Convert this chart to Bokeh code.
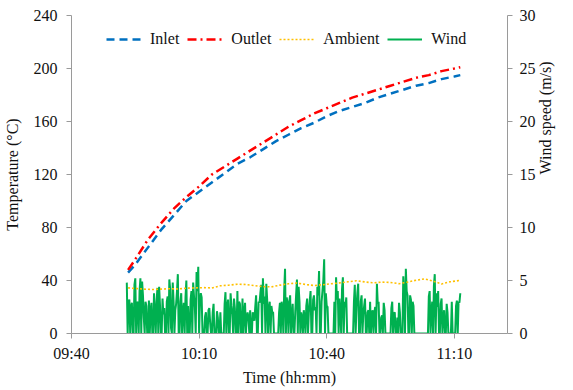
import math
from bokeh.plotting import figure
from bokeh.models import Range1d, LinearAxis, FixedTicker, Legend, LegendItem
from bokeh.embed import file_html
from bokeh.resources import INLINE

# ---- data (minutes after 09:40) ----
inlet_t = [13.3, 15, 18, 21, 24, 27, 30, 33, 36, 39, 42, 45, 48, 51, 54, 57, 60,
           63, 66, 69, 72, 75, 78, 81, 84, 87, 90, 91.4]
inlet_v = [46, 52, 65, 78, 89, 100, 107, 114, 121, 128, 133, 139, 145, 150, 155, 159, 164,
           168, 171, 174, 178, 181, 184, 187, 189, 192, 194, 195]

outlet_t = inlet_t
outlet_v = [48, 56, 71, 83, 94, 103, 111, 120, 126, 132, 138, 144, 150, 156, 161, 166, 170,
            174, 178, 181, 184, 187, 190, 193, 195, 198, 200, 201]

ambient_t = [13.3, 15, 17, 19, 21, 23, 25, 27, 29, 31, 33, 35, 37, 39, 41, 43, 45, 47, 49, 51,
             53, 55, 57, 59, 61, 63, 65, 67, 69, 71, 73, 75, 77, 79, 81, 83, 85, 87, 89, 91.4]
ambient_v = [34.4, 34.0, 33.5, 33.2, 33.5, 33.8, 33.6, 34.2, 34.4, 34.6, 34.4, 36.0, 36.5, 37.2,
             37.0, 36.2, 35.4, 35.2, 36.5, 37.5, 38.1, 37.0, 36.2, 36.8, 37.5, 38.2, 39.0, 39.8,
             38.9, 38.2, 38.8, 38.5, 37.6, 38.8, 40.2, 41.2, 39.5, 37.4, 39.0, 40.1]

wind_start = 13.0   # minutes after 09:40
wind_step = 0.2     # minutes between samples
wind_v = [
    4.8, 0, 2.9, 3.2, 0, 2.5, 2.9, 0, 0, 4.6, 5.2, 0, 2.8, 3.0, 0, 4.0, 5.2, 0, 4.9, 3.6,
    1.5, 0, 3.0, 2.6, 0, 0, 3.1, 0, 2.2, 2.9, 0, 0, 3.8, 2.0, 0, 3.0, 4.3, 0, 4.4, 2.7,
    0, 0, 3.3, 1.8, 2.4, 0, 0, 3.0, 3.5, 0, 5.1, 4.2, 0.5, 0, 4.8, 3.0, 0, 2.2, 2.8, 4.0,
    5.6, 0, 0, 3.0, 3.8, 0, 2.0, 2.9, 0, 3.4, 5.0, 0, 2.6, 0, 0, 3.2, 4.0, 0, 4.8, 3.5,
    2.5, 0, 5.8, 4.0, 6.3, 0, 3.0, 3.8, 3.4, 0, 0, 0, 1.6, 2.0, 0, 0, 2.2, 2.4, 1.0, 0,
    0, 2.0, 2.8, 0, 0, 0, 2.1, 1.5, 0, 0, 2.0, 0, 0, 0, 0, 2.8, 3.9, 0, 2.5, 3.2,
    0, 0, 3.8, 2.6, 1.8, 0, 3.3, 2.4, 0, 0, 4.0, 0, 3.0, 2.8, 0, 0, 3.3, 0, 2.0, 2.9, 0, 1.5,
    2.0, 1.5, 0, 2.2, 0, 0, 2.0, 1.6, 1.2, 2.5, 3.6, 0, 0, 3.0, 2.9, 3.8, 4.6, 0, 5.2, 2.8,
    3.5, 0, 4.7, 3.2, 0, 2.4, 3.0, 0, 2.6, 2.0, 2.0, 0, 0, 0, 0, 0, 0, 2.0, 2.9, 0,
    3.0, 2.4, 0, 4.0, 6.1, 0, 3.4, 2.8, 0, 3.0, 3.6, 0, 1.5, 2.8, 0, 0, 2.0, 3.6, 5.1, 0,
    4.4, 3.0, 0, 2.0, 1.5, 0, 2.2, 1.6, 0, 2.6, 3.3, 0, 2.0, 3.0, 4.0, 0, 0, 3.2, 3.6, 2.2,
    2.5, 0, 4.4, 3.6, 5.9, 0, 0, 3.0, 4.0, 5.0, 7.0, 0, 3.8, 2.6, 2.5, 0, 0, 0, 0, 0,
    0, 0, 3.0, 0, 5.3, 3.2, 4.0, 0, 3.3, 2.0, 0, 4.2, 5.3, 0, 3.0, 2.5, 3.4, 0, 0, 0,
    0, 0, 0, 0, 0, 3.0, 4.6, 0, 2.5, 3.8, 4.7, 0, 0, 3.0, 3.6, 0, 1.8, 2.6, 3.3, 0, 0, 2.0, 2.2, 0,
    3.0, 0, 1.9, 2.2, 0, 2.0, 2.5, 0, 4.7, 2.8, 3.0, 0, 0, 1.5, 1.7, 0, 2.9, 2.2, 0, 0,
    0, 0, 0, 0, 0, 2.4, 3.0, 0, 1.9, 2.0, 0, 0, 1.5, 0, 2.9, 2.0, 0, 0, 0, 5.4,
    3.6, 0, 6.1, 4.0, 3.6, 0, 0, 3.6, 3.2, 0, 3.0, 2.6, 0, 0, 0, 0, 0, 0, 0, 0,
    0, 0, 0, 0, 0, 0, 0, 0, 0, 3.5, 4.0, 0, 2.0, 3.0, 0, 4.5, 5.6, 0, 3.8, 2.5,
    4.0, 0, 0, 2.8, 3.3, 0, 1.5, 2.2, 0, 0, 2.8, 2.0, 0, 0, 0, 0, 3.0, 0, 0, 0,
    0, 2.6, 3.1, 0, 3.0, 2.9, 3.8,
]
wind_t = [wind_start + wind_step * i for i in range(len(wind_v))]

time_ticks = [0, 30, 60, 90]
time_labels = ["09:40", "10:10", "10:40", "11:10"]
temp_ticks = [0, 40, 80, 120, 160, 200, 240]
wind_ticks = [0, 5, 10, 15, 20, 25, 30]

FONT = "Liberation Serif"
TXT = "#111111"
AX = "#9a9a9a"

p = figure(width=565, height=388, output_backend="svg", toolbar_location=None,
           x_range=Range1d(0, 102.5), y_range=Range1d(0, 240),
           min_border_left=67, min_border_right=55, min_border_top=15, min_border_bottom=54)
p.extra_y_ranges = {"wind": Range1d(0, 30)}
p.outline_line_color = None
p.grid.visible = False
p.background_fill_color = "white"

r_wind = p.line(wind_t, wind_v, y_range_name="wind", color="#00B050", line_width=2.0)
r_amb = p.line(ambient_t, ambient_v, color="#FFC000", line_width=1.6, line_dash="2 2")
r_in = p.line(inlet_t, inlet_v, color="#0070C0", line_width=2.5, line_dash="8 5")
r_out = p.line(outlet_t, outlet_v, color="#FF0000", line_width=2.5, line_dash="9 4 2 4")

right = LinearAxis(y_range_name="wind", axis_label="Wind speed (m/s)")
right.axis_label_orientation = math.pi / 2
p.add_layout(right, "right")

for ax in [p.xaxis[0], p.yaxis[0], right]:
    ax.axis_line_color = AX
    ax.major_tick_line_color = AX
    ax.minor_tick_line_color = None
    ax.major_tick_in = 0
    ax.major_tick_out = 5
    ax.major_label_text_font = FONT
    ax.major_label_text_font_size = "16px"
    ax.major_label_text_color = TXT
    ax.axis_label_text_font = FONT
    ax.axis_label_text_font_size = "16px"
    ax.axis_label_text_font_style = "normal"
    ax.axis_label_text_color = TXT

p.xaxis[0].ticker = FixedTicker(ticks=time_ticks)
p.xaxis[0].major_label_overrides = {t: l for t, l in zip(time_ticks, time_labels)}
p.xaxis[0].axis_label = "Time (hh:mm)"
p.xaxis[0].major_label_standoff = 6
p.xaxis[0].axis_label_standoff = 4

p.yaxis[0].ticker = FixedTicker(ticks=temp_ticks)
p.yaxis[0].axis_label = "Temperature (°C)"
p.yaxis[0].major_label_standoff = 9
p.yaxis[0].axis_label_standoff = 10

right.ticker = FixedTicker(ticks=wind_ticks)
right.major_label_standoff = 7
right.axis_label_standoff = 7

legend = Legend(items=[LegendItem(label="Inlet", renderers=[r_in]),
                       LegendItem(label="Outlet", renderers=[r_out]),
                       LegendItem(label="Ambient", renderers=[r_amb]),
                       LegendItem(label="Wind", renderers=[r_wind])],
                orientation="horizontal", location=(35, 284))
legend.border_line_color = None
legend.background_fill_alpha = 0
legend.padding = 0
legend.margin = 0
legend.spacing = 8
legend.glyph_width = 35
legend.label_standoff = 9
legend.label_text_font = FONT
legend.label_text_font_size = "16px"
legend.label_text_color = TXT
p.add_layout(legend, "center")

open("out.html", "w").write(file_html(p, INLINE))
